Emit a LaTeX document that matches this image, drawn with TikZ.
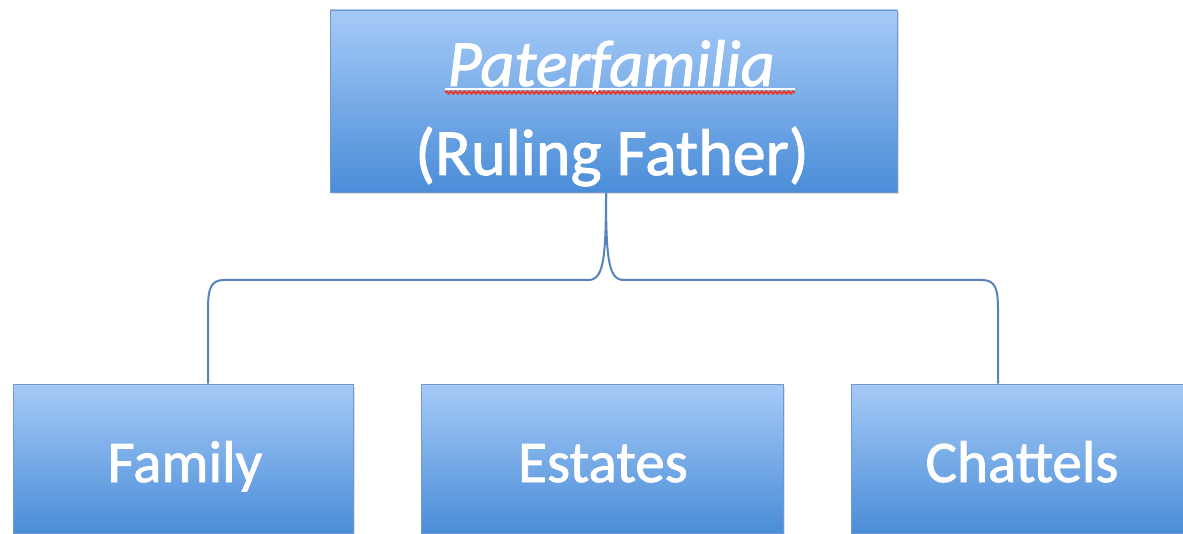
\documentclass[tikz,border=0pt]{standalone}
\usepackage{fontspec}
\setmainfont{Carlito}
\newfontfamily\heavyfont[FakeBold=1.4]{Carlito}
\usetikzlibrary{shadows,decorations.pathmorphing,calc}
\definecolor{boxtop}{RGB}{166,202,247}
\definecolor{boxbot}{RGB}{74,141,216}
\definecolor{boxline}{RGB}{112,152,206}
\definecolor{linkcol}{RGB}{88,130,186}
\definecolor{spellred}{RGB}{235,55,35}
\begin{document}
\begin{tikzpicture}[x=1pt,y=-1pt,
  box/.style={draw=boxline, line width=0.8pt, top color=boxtop, bottom color=boxbot, inner sep=0pt,
    drop shadow={opacity=0.25, shadow xshift=1.5pt, shadow yshift=-2.5pt}},
  lbl/.style={text=white, inner sep=0pt, anchor=base},
  link/.style={draw=linkcol, line width=2pt}]
\useasboundingbox (0,0) rectangle (1183,534);
\node[box, minimum width=567pt, minimum height=182pt] (pater) at (613.5,101) {};
\node[box, minimum width=340pt, minimum height=149pt] (family) at (183,458.5) {};
\node[box, minimum width=362pt, minimum height=149pt] (estates) at (602,458.5) {};
\node[box, minimum width=342pt, minimum height=149pt] (chattels) at (1022,458.5) {};
\node[lbl, font=\heavyfont\fontsize{66}{79}\selectfont\itshape] (t1) at (621,86) {Paterfamilia\kern0.3em};
\node[lbl, font=\heavyfont\fontsize{66}{79}\selectfont] (t2) at (612,175) {(Ruling Father)};
\draw[white, line width=2.5pt] ($(t1.base west)+(-2,3)$) -- ($(t1.base east)+(0,3)$);
\draw[spellred, line width=2pt, decorate, decoration={snake, amplitude=1.1pt, segment length=4.5pt}]
  ($(t1.base west)+(-2,6.5)$) -- ($(t1.base east)+(0,6.5)$);
\node[lbl, font=\heavyfont\fontsize{59}{70}\selectfont] (l1) at (185,482) {Family};
\node[lbl, font=\heavyfont\fontsize{59}{70}\selectfont] (l2) at (603,482) {Estates};
\node[lbl, font=\heavyfont\fontsize{59}{70}\selectfont] (l3) at (1022,482) {Chattels};
\coordinate (tip) at (606,193);
\coordinate (fl) at (208,0);
\coordinate (fr) at (998,0);
\draw[link] (tip) .. controls (606,262) and (603,280) .. (588,280) -- (224,280)
  .. controls (210,280) and (208,290) .. (208,310) -- (fl |- family.north);
\draw[link] (tip) .. controls (606,262) and (609,280) .. (624,280) -- (982,280)
  .. controls (996,280) and (998,290) .. (998,310) -- (fr |- chattels.north);
\end{tikzpicture}
\end{document}
